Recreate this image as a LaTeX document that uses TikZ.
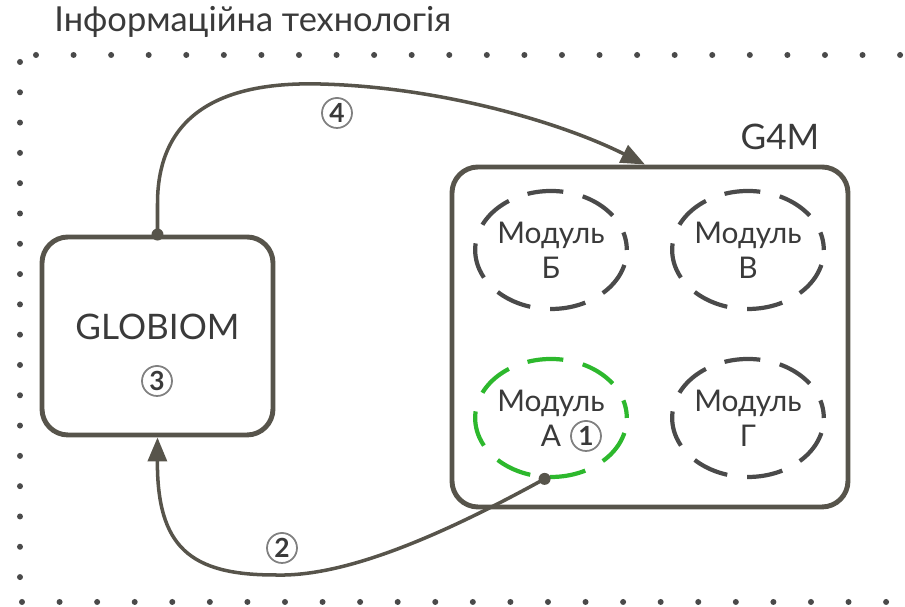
\documentclass[tikz,border=0pt]{standalone}
\usepackage{fontspec}
\setmainfont{Lato}
\usetikzlibrary{arrows.meta,shapes.geometric,positioning}

\definecolor{boxline}{HTML}{57544B}
\definecolor{modgreen}{HTML}{2DB82D}
\definecolor{modgray}{HTML}{4A4A4A}
\definecolor{inkgray}{HTML}{3A3A3A}

\begin{document}
\begin{tikzpicture}[
		model/.style={draw=boxline, line width=1.4pt, rounded corners=0.26cm},
		module/.style={ellipse, draw=modgray, line width=1.2pt, minimum width=1.34cm, minimum height=1.18cm,
			dash pattern=on 0.36cm off 0.2cm, dash phase=0.18cm, inner sep=0pt,
			align=center, text=inkgray, font=\fontsize{8.5}{10}\selectfont},
		num/.style={circle, draw=gray, line width=0.5pt, minimum size=0.3cm, inner sep=0pt,
			text=inkgray, font=\fontsize{7.5}{7.5}\selectfont\bfseries},
		flow/.style={draw=boxline, line width=1pt, -{Triangle[length=0.24cm,width=0.19cm]}},
		joint/.style={circle, fill=boxline, inner sep=0pt, minimum size=0.12cm},
		frame dot/.style={fill=modgray}
	]
	\useasboundingbox (0,0) rectangle (9.05,6.07);

	% dotted border of the technology
	\fill[frame dot] (0.20,5.45) circle (0.03);
	\foreach \i in {0,...,23}
		\fill[frame dot] (0.36+0.3757*\i,5.52) circle (0.03);
	\foreach \j in {1,...,17}
		\fill[frame dot] (0.20,5.45-0.303*\j) circle (0.03);
	\foreach \i in {0,...,23}
		\fill[frame dot] (0.22+0.3757*\i,0.05) circle (0.03);

	\node[anchor=base west, text=inkgray, font=\fontsize{9.8}{12}\selectfont] (title) at (0.42,5.75) {Інформаційна технологія};

	% GLOBIOM
	\node[model, minimum width=2.31cm, minimum height=1.98cm] (globiom) at (1.575,2.71) {};
	\node[text=inkgray, font=\fontsize{10}{12}\selectfont] (globiomlbl) at (1.575,2.80) {GLOBIOM};
	\node[num] (n3) at (1.57,2.26) {3};

	% G4M and its modules
	\node[model, minimum width=3.96cm, minimum height=3.40cm] (g4m) at (6.5,2.70) {};
	\node[text=inkgray, font=\fontsize{10}{12}\selectfont] (g4mlbl) at (7.8,4.70) {G4M};

	\node[module] (modB) at (5.51,3.57) {Модуль\\Б};
	\node[module] (modV) at (7.48,3.57) {Модуль\\В};
	\node[module, draw=modgreen] (modA) at (5.51,1.89) {Модуль\\А};
	\node[module] (modG) at (7.48,1.89) {Модуль\\Г};
	\node[num] (n1) at (5.86,1.71) {1};

	% flows between the models
	\draw[flow] (modA.-96) .. controls (4.3,0.65) and (3.4,0.30) .. (2.75,0.32)
		.. controls (1.9,0.32) and (1.57,0.6) .. (globiom.south);
	\node[num] (n2) at (2.82,0.59) {2};

	\draw[flow] (globiom.north) -- ++(0,0.3) .. controls (1.57,5.05) and (2.4,5.25) .. (3.2,5.23)
		.. controls (4.4,5.2) and (5.6,4.85) .. ([xshift=-0.05cm]g4m.north);
	\node[num] (n4) at (3.37,4.94) {4};

	\node[joint] (outA) at (modA.-96) {};
	\node[joint] (outglob) at (globiom.north) {};

\end{tikzpicture}
\end{document}
